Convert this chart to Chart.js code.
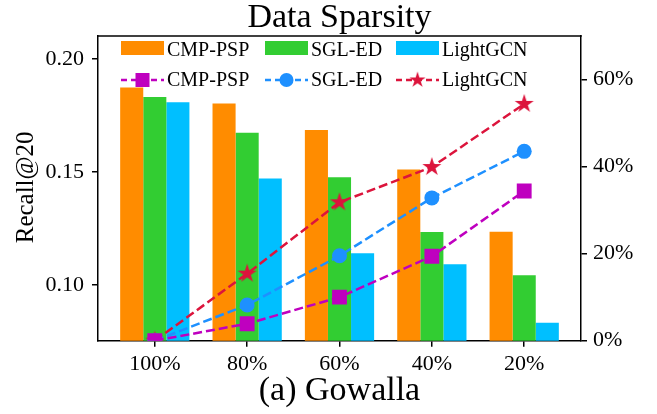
<!DOCTYPE html>
<html>
<head>
<meta charset="utf-8">
<script src="https://cdn.jsdelivr.net/npm/chart.js@4.4.1/dist/chart.umd.min.js"></script>
<style>
    html, body { margin: 0; padding: 0; background: #fff; }
    #wrap { width: 657px; height: 414px; }
</style>
</head>
<body>
<div id="wrap"><canvas id="chart" width="657" height="414"></canvas></div>
<script>
const categories = ['100%', '80%', '60%', '40%', '20%']
const recallCmpPsp = [0.1875, 0.1804, 0.1686, 0.1512, 0.1236]
const recallSglEd = [0.1833, 0.1674, 0.1477, 0.1235, 0.1043]
const recallLightGcn = [0.1810, 0.1472, 0.1140, 0.1092, 0.0832]
const dropCmpPsp = [0, 3.9, 10.0, 19.4, 34.4]
const dropSglEd = [0, 8.2, 19.5, 32.8, 43.5]
const dropLightGcn = [0, 15.4, 31.8, 39.9, 54.4]
const recallTicks = [0.10, 0.15, 0.20]
const dropTicks = [0, 20, 40, 60]

const serif = '"Liberation Serif", "Times New Roman", serif'
Chart.defaults.font.family = serif
Chart.defaults.color = '#000'

// filled five point star, like matplotlib's '*' marker
function makeStar(color, outer) {
    const size = Math.ceil(outer * 2 + 2)
    const c = document.createElement('canvas')
    c.width = size
    c.height = size
    const g = c.getContext('2d')
    g.fillStyle = color
    g.beginPath()
    for (let k = 0; k < 10; k++) {
        const r = k % 2 === 0 ? outer : outer * 0.381966
        const a = -Math.PI / 2 + k * Math.PI / 5
        const px = size / 2 + r * Math.cos(a)
        const py = size / 2 + r * Math.sin(a)
        if (k === 0) g.moveTo(px, py)
        else g.lineTo(px, py)
    }
    g.closePath()
    g.fill()
    return c
}

const toPoints = values => values.map((v, i) => ({ x: i, y: v }))

function barSet(label, values, color) {
    return {
        type: 'bar', label: label, data: toPoints(values), backgroundColor: color,
        yAxisID: 'y', categoryPercentage: 0.75, barPercentage: 1, order: 2
    }
}

function lineSet(label, values, color, style, radius) {
    return {
        type: 'line', label: label, data: toPoints(values), yAxisID: 'y1',
        borderColor: color, borderWidth: 2.5, borderDash: [9, 4],
        pointStyle: style, pointRadius: radius, pointHoverRadius: radius,
        pointBackgroundColor: color, pointBorderWidth: 0, order: 1
    }
}

const starImg = makeStar('#DC143C', 10)

const datasets = [
    barSet('CMP-PSP', recallCmpPsp, '#FF8C00'),
    barSet('SGL-ED', recallSglEd, '#32CD32'),
    barSet('LightGCN', recallLightGcn, '#00BFFF'),
    lineSet('CMP-PSP', dropCmpPsp, '#BF00BF', 'rect', 10.5),
    lineSet('SGL-ED', dropSglEd, '#1E90FF', 'circle', 7.5),
    lineSet('LightGCN', dropLightGcn, '#DC143C', starImg, 10)
]

const framePlugin = {
    id: 'frameAndText',
    afterDraw(chart) {
        const ctx = chart.ctx
        const area = chart.chartArea
        const mid = (area.left + area.right) / 2
        ctx.save()

        // top spine
        ctx.strokeStyle = '#000'
        ctx.lineWidth = 1.5
        ctx.beginPath()
        ctx.moveTo(area.left - 0.75, area.top)
        ctx.lineTo(area.right + 0.75, area.top)
        ctx.stroke()

        // titles
        ctx.fillStyle = '#000'
        ctx.textAlign = 'center'
        ctx.textBaseline = 'alphabetic'
        ctx.font = '34px ' + serif
        ctx.fillText('Data Sparsity', mid, 26.5)
        ctx.fillText('(a) Gowalla', mid, 400)

        ctx.save()
        ctx.translate(33, (area.top + area.bottom) / 2 - 1)
        ctx.rotate(-Math.PI / 2)
        ctx.font = '25px ' + serif
        ctx.fillText('Recall@20', 0, 0)
        ctx.restore()

        // two row legend inside the plot
        const cols = [121, 265, 396]
        ctx.font = '20px ' + serif
        ctx.textAlign = 'left'
        chart.data.datasets.forEach((ds, i) => {
            const x = cols[i % 3]
            if (ds.type === 'bar') {
                ctx.fillStyle = ds.backgroundColor
                ctx.fillRect(x, 41, 43, 14)
                ctx.fillStyle = '#000'
                ctx.fillText(ds.label, x + 46, 56)
            } else {
                const y = 80
                ctx.strokeStyle = ds.borderColor
                ctx.lineWidth = ds.borderWidth
                ctx.setLineDash([6, 4])
                ctx.beginPath()
                ctx.moveTo(x, y)
                ctx.lineTo(x + 43, y)
                ctx.stroke()
                ctx.setLineDash([])
                const cx = x + 21.5
                ctx.fillStyle = ds.borderColor
                if (ds.pointStyle === 'rect') {
                    ctx.fillRect(cx - 7, y - 7, 14, 14)
                } else if (ds.pointStyle === 'circle') {
                    ctx.beginPath()
                    ctx.arc(cx, y, 7, 0, Math.PI * 2)
                    ctx.fill()
                } else {
                    const s = ds.pointStyle.width * 0.85
                    ctx.drawImage(ds.pointStyle, cx - s / 2, y - s / 2, s, s)
                }
                ctx.fillStyle = '#000'
                ctx.fillText(ds.label, x + 46, 86)
            }
        })
        ctx.restore()
    }
}

const axisLine = { color: '#000', width: 1.5 }
const tickGrid = { drawOnChartArea: false, drawTicks: true, tickLength: 6, color: '#000', lineWidth: 1.5, offset: false }

new Chart(document.getElementById('chart'), {
    type: 'bar',
    data: { datasets: datasets },
    options: {
        responsive: false,
        animation: false,
        layout: { padding: { top: 36, left: 0, right: 0, bottom: 0 } },
        plugins: { legend: { display: false }, tooltip: { enabled: false } },
        scales: {
            x: {
                type: 'linear', min: -0.615, max: 4.615, offset: false,
                afterBuildTicks: scale => { scale.ticks = categories.map((c, i) => ({ value: i })) },
                afterFit: scale => { scale.height = 73.3 },
                ticks: { callback: v => categories[v], padding: 4, font: { size: 22 }, maxRotation: 0, autoSkip: false },
                grid: tickGrid,
                border: axisLine
            },
            y: {
                position: 'left', min: 0.0753, max: 0.2103,
                afterBuildTicks: scale => { scale.ticks = recallTicks.map(v => ({ value: v })) },
                afterFit: scale => { scale.width = 98 },
                ticks: { callback: v => v.toFixed(2), padding: 8, font: { size: 22 } },
                grid: tickGrid,
                border: axisLine
            },
            y1: {
                position: 'right', min: 0, max: 70,
                afterBuildTicks: scale => { scale.ticks = dropTicks.map(v => ({ value: v })) },
                afterFit: scale => { scale.width = 76 },
                ticks: { callback: v => v + '%', padding: 6, font: { size: 22 } },
                grid: tickGrid,
                border: axisLine
            }
        }
    },
    plugins: [framePlugin]
})
</script>
</body>
</html>
